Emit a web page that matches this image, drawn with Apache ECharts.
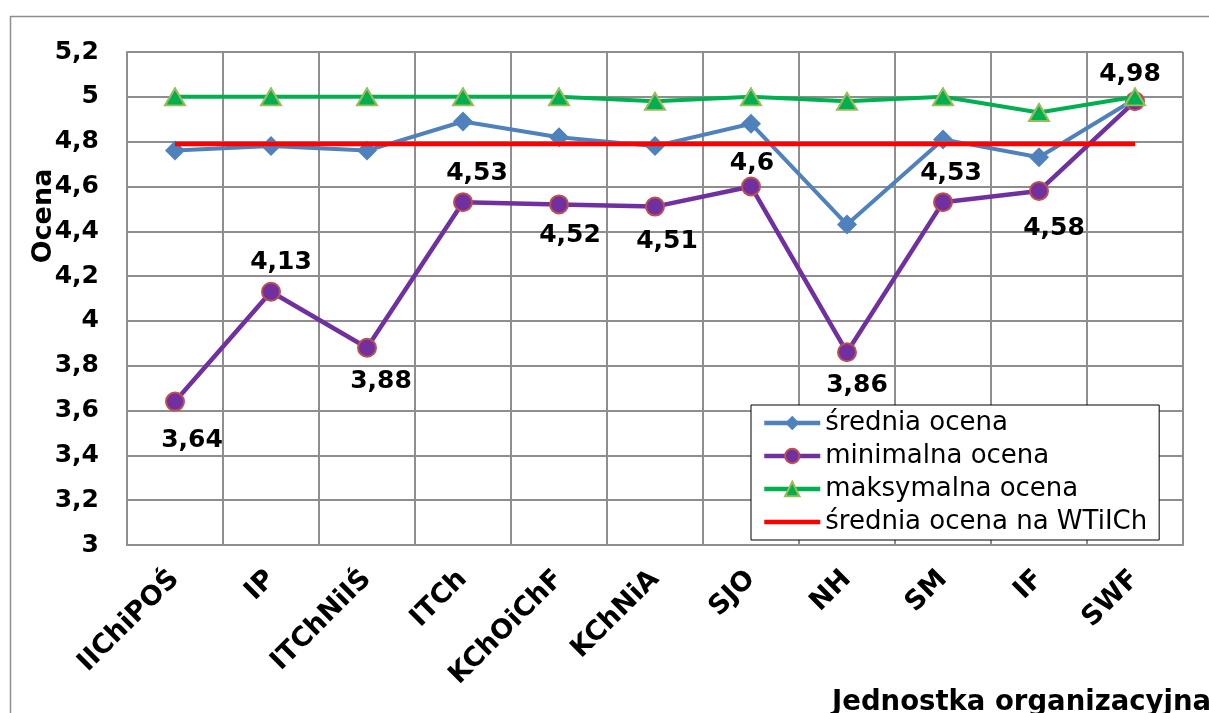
<!DOCTYPE html>
<html>
<head>
<meta charset="utf-8">
<script src="https://cdn.jsdelivr.net/npm/echarts@6/dist/echarts.min.js"></script>
<style>
  html, body { margin: 0; padding: 0; background: #ffffff; overflow: hidden; }
  #chart { width: 1209px; height: 713px; }
</style>
</head>
<body>
<div id="chart"></div>
<script>
// Organisational units of the faculty
const categories = ['IIChiPOŚ', 'IP', 'ITChNiIŚ', 'ITCh', 'KChOiChF', 'KChNiA', 'SJO', 'NH', 'SM', 'IF', 'SWF'];

// Scores per unit
const avgScore = [4.76, 4.78, 4.76, 4.89, 4.82, 4.78, 4.88, 4.43, 4.81, 4.73, 4.99];
const minScore = [3.64, 4.13, 3.88, 4.53, 4.52, 4.51, 4.6, 3.86, 4.53, 4.58, 4.98];
const maxScore = [5, 5, 5, 5, 5, 4.98, 5, 4.98, 5, 4.93, 5];
const facultyAvg = [4.79, 4.79, 4.79, 4.79, 4.79, 4.79, 4.79, 4.79, 4.79, 4.79, 4.79];

// Value axis range and step
const yMin = 3;
const yMax = 5.2;
const yStep = 0.2;

const seriesNames = ['średnia ocena', 'minimalna ocena', 'maksymalna ocena', 'średnia ocena na WTiICh'];

// Where each minimum-score label sits relative to its point
const minLabelSide = ['bottom', 'top', 'bottom', 'top', 'bottom', 'bottom', 'top', 'bottom', 'top', 'bottom', 'top'];
const minLabelShift = [[17, 6], [10, 3], [14, 1], [14, 4], [11, -1], [12, 2], [1, 10], [10, 1], [8, 4], [15, 5], [-5, 6]];

const FONT = 'DejaVu Sans';
const GRID_COLOR = '#8e8e8e';
const comma = v => String(v).replace('.', ',');

const minData = minScore.map((v, i) => ({
  value: v,
  label: { position: minLabelSide[i], offset: minLabelShift[i] }
}));

const chart = echarts.init(document.getElementById('chart'), null, { renderer: 'canvas' });

chart.setOption({
  animation: false,
  backgroundColor: '#ffffff',
  textStyle: { fontFamily: FONT },
  grid: { left: 127, right: 26, top: 52, bottom: 168, containLabel: false },
  xAxis: {
    type: 'category',
    data: categories,
    boundaryGap: true,
    axisLine: { show: true, lineStyle: { color: GRID_COLOR, width: 2 } },
    axisTick: { show: false },
    splitLine: { show: true, interval: 0, lineStyle: { color: GRID_COLOR, width: 2 } },
    axisLabel: {
      interval: 0, rotate: 45, margin: 30,
      fontFamily: FONT, fontSize: 27, fontWeight: 'bold', color: '#000000'
    }
  },
  yAxis: {
    type: 'value',
    min: yMin, max: yMax, interval: yStep,
    axisLine: { show: true, lineStyle: { color: GRID_COLOR, width: 2 } },
    axisTick: { show: false },
    splitLine: { show: true, lineStyle: { color: GRID_COLOR, width: 2 } },
    axisLabel: {
      margin: 28, fontFamily: FONT, fontSize: 25, fontWeight: 'bold', color: '#000000',
      formatter: v => comma(+v.toFixed(1))
    }
  },
  legend: {
    orient: 'vertical',
    left: 751, top: 405,
    itemWidth: 56, itemHeight: 18, itemGap: 7,
    padding: [5, 12, 5, 11],
    borderColor: '#000000', borderWidth: 1,
    backgroundColor: '#ffffff',
    lineStyle: { width: 4.5 },
    textStyle: { fontFamily: FONT, fontSize: 26, color: '#000000' },
    data: [
      seriesNames[0], seriesNames[1], seriesNames[2],
      { name: seriesNames[3], itemStyle: { opacity: 0 } }
    ]
  },
  graphic: [
    {
      type: 'line', silent: true, z: -10,
      shape: { x1: 10, y1: 16.5, x2: 1209, y2: 16.5 },
      style: { stroke: GRID_COLOR, lineWidth: 1.5 }
    },
    {
      type: 'line', silent: true, z: -10,
      shape: { x1: 10.5, y1: 16, x2: 10.5, y2: 713 },
      style: { stroke: GRID_COLOR, lineWidth: 1.5 }
    },
    {
      type: 'text', silent: true,
      x: 44, y: 216, rotation: Math.PI / 2,
      style: {
        text: 'Ocena', fontFamily: FONT, fontSize: 27, fontWeight: 'bold',
        fill: '#000000', align: 'center', verticalAlign: 'middle'
      }
    },
    {
      type: 'text', silent: true,
      x: 832, y: 689,
      style: {
        text: 'Jednostka organizacyjna', fontFamily: FONT, fontSize: 27.5, fontWeight: 'bold',
        fill: '#000000', align: 'left', verticalAlign: 'top'
      }
    }
  ],
  series: [
    {
      name: seriesNames[0], type: 'line', data: avgScore,
      symbol: 'diamond', symbolSize: 20, showAllSymbol: true,
      lineStyle: { color: '#4f81bd', width: 4 },
      itemStyle: { color: '#4f81bd' },
      z: 2
    },
    {
      name: seriesNames[1], type: 'line', data: minData,
      symbol: 'circle', symbolSize: 18, showAllSymbol: true,
      lineStyle: { color: '#7030a0', width: 4.5 },
      itemStyle: { color: '#7030a0', borderColor: '#c0504d', borderWidth: 2 },
      label: {
        show: true, distance: 10,
        fontFamily: FONT, fontSize: 25, fontWeight: 'bold', color: '#000000',
        formatter: p => comma(p.value)
      },
      z: 3
    },
    {
      name: seriesNames[2], type: 'line', data: maxScore,
      symbol: 'triangle', symbolSize: [20, 17], showAllSymbol: true,
      lineStyle: { color: '#00b050', width: 4 },
      itemStyle: { color: '#00b050', borderColor: '#9bbb59', borderWidth: 2 },
      z: 4
    },
    {
      name: seriesNames[3], type: 'line', data: facultyAvg,
      symbol: 'none',
      lineStyle: { color: '#ff0000', width: 4.5 },
      itemStyle: { color: '#ff0000' },
      z: 5
    }
  ]
});
</script>
</body>
</html>
